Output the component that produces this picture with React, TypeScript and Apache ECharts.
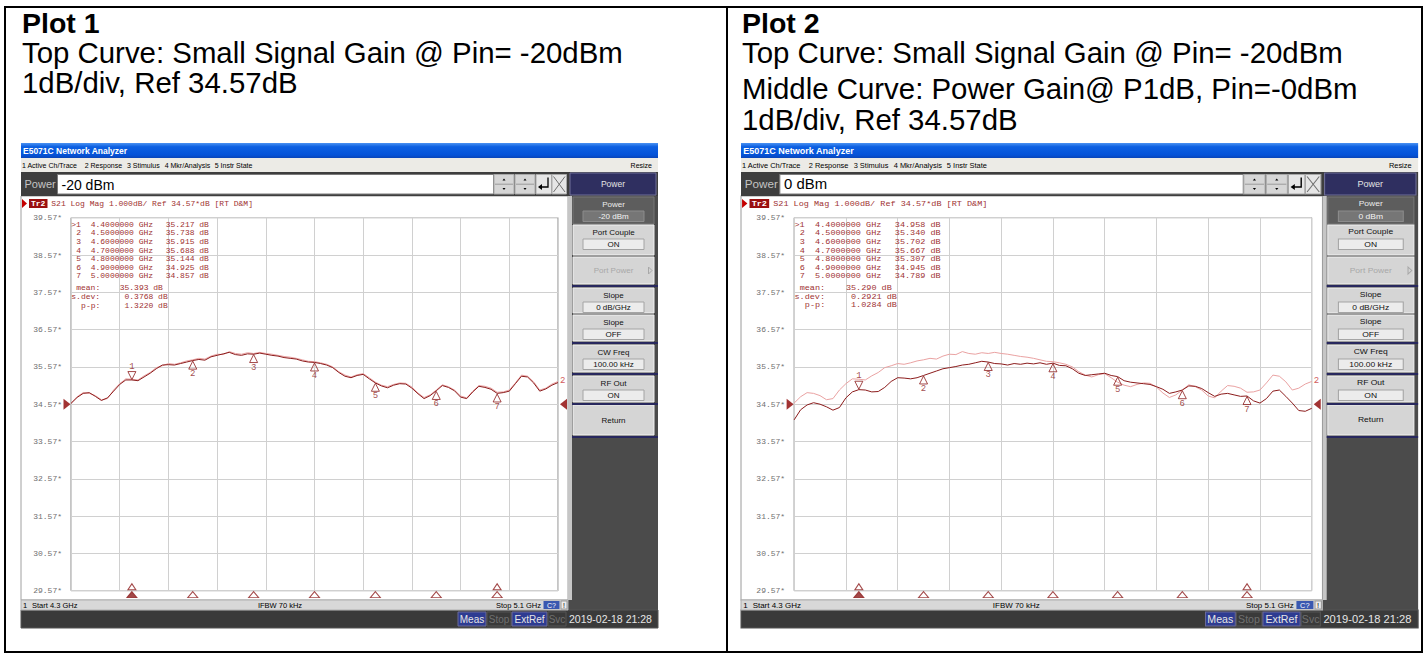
import React, { useEffect, useRef } from "react";
import * as echarts from "echarts";

// ---------- data ----------
const REF_LEVEL = 34.57;
const FREQ_GHZ = Array.from({ length: 81 }, (_, i) => (4.3 + i * 0.01).toFixed(2));
const MARKER_FREQS = ["4.40", "4.50", "4.60", "4.70", "4.80", "4.90", "5.00"];

// Plot 1 data trace (Pin = -20 dBm)
const P1_TRACE = [
  34.59, 34.75, 34.86, 34.88, 34.78, 34.67, 34.74, 34.92, 35.10, 35.22,
  35.22, 35.20, 35.30, 35.40, 35.52, 35.62, 35.63, 35.62, 35.66, 35.70,
  35.74, 35.77, 35.75, 35.84, 35.88, 35.92, 35.96, 35.90, 35.88, 35.92,
  35.91, 35.94, 35.91, 35.88, 35.86, 35.82, 35.80, 35.78, 35.73, 35.70,
  35.69, 35.66, 35.62, 35.55, 35.42, 35.32, 35.28, 35.34, 35.37, 35.25,
  35.14, 35.06, 35.01, 35.08, 35.12, 35.11, 35.00, 34.85, 34.72, 34.80,
  34.93, 35.07, 35.02, 34.93, 34.76, 34.72, 34.90, 35.05, 35.02, 34.97,
  34.86, 34.88, 34.92, 35.12, 35.32, 35.30, 35.14, 34.92, 34.98, 35.08,
  35.15,
];
// memory trace (Pin = -20 dBm, light curve)
const P1_MEMORY = [
  34.60, 34.77, 34.88, 34.86, 34.80, 34.69, 34.72, 34.95, 35.12, 35.25,
  35.24, 35.22, 35.33, 35.42, 35.55, 35.60, 35.66, 35.64, 35.68, 35.73,
  35.76, 35.80, 35.78, 35.86, 35.91, 35.90, 35.98, 35.93, 35.91, 35.95,
  35.93, 35.96, 35.93, 35.91, 35.88, 35.85, 35.83, 35.80, 35.76, 35.72,
  35.71, 35.68, 35.64, 35.57, 35.44, 35.35, 35.30, 35.36, 35.39, 35.28,
  35.16, 35.08, 35.04, 35.10, 35.14, 35.13, 35.03, 34.87, 34.75, 34.82,
  34.95, 35.09, 35.04, 34.95, 34.79, 34.74, 34.92, 35.07, 35.05, 35.00,
  34.89, 34.90, 34.95, 35.14, 35.35, 35.32, 35.17, 34.95, 35.00, 35.11,
  35.18,
];
// Plot 2 data trace (Pin = 0 dBm)
const P2_TRACE = [
  34.15, 34.42, 34.55, 34.61, 34.57, 34.50, 34.41, 34.48, 34.74, 34.90,
  34.96, 34.95, 34.90, 34.91, 35.02, 35.18, 35.28, 35.27, 35.25, 35.28,
  35.34, 35.40, 35.46, 35.52, 35.55, 35.58, 35.62, 35.64, 35.68, 35.72,
  35.70, 35.66, 35.65, 35.62, 35.66, 35.64, 35.67, 35.65, 35.68, 35.64,
  35.67, 35.61, 35.60, 35.52, 35.40, 35.34, 35.36, 35.38, 35.40, 35.34,
  35.31, 35.20, 35.16, 35.14, 35.12, 35.10, 35.04, 34.97, 34.86, 34.90,
  34.95, 35.06, 35.05, 34.99, 34.88, 34.78, 34.84, 34.86, 34.82, 34.78,
  34.79, 34.66, 34.60, 34.72, 34.92, 34.95, 34.78, 34.60, 34.40, 34.38,
  34.46,
];
const P1_MARKER_DB = [35.217, 35.738, 35.915, 35.688, 35.144, 34.925, 34.857];
const P2_MARKER_DB = [34.958, 35.34, 35.702, 35.667, 35.307, 34.945, 34.789];
const P1_STATS = ["35.393", "0.3768", "1.3220"];
const P2_STATS = ["35.290", "0.2921", "1.0284"];
const P1_POWER = "-20 dBm";
const P2_POWER = "0 dBm";
const P1_TITLE = ["Plot 1", "Top Curve: Small Signal Gain @ Pin= -20dBm", "1dB/div, Ref 34.57dB"];
const P2_TITLE = [
  "Plot 2",
  "Top Curve: Small Signal Gain @ Pin= -20dBm",
  "Middle Curve: Power Gain@ P1dB, Pin=-0dBm",
  "1dB/div, Ref 34.57dB",
];

// ---------- styling ----------
const UI = '"Liberation Sans", Arial, sans-serif';
const MONO = '"Liberation Mono", "DejaVu Sans Mono", monospace';
const DARK = "#8c1c1c";
const PINK = "#eaa2a2";
const ANNOT = "#a03232";
const SCREENS = [
  { ox: 21, sx: 1 },
  { ox: 741, sx: 677 / 637 },
];
const G_LEFT = 71;
const G_WIDTH = 487;
const G_TOP = 217.7;
const G_HEIGHT = 373;

function txt(x: number, y: number, text: string, size: number, color: string, o: any = {}) {
  return {
    type: "text",
    x,
    y,
    z: o.z ?? 10,
    style: {
      text,
      fontSize: size,
      fontFamily: o.family || UI,
      fontWeight: o.weight || "normal",
      fill: color,
      align: o.align || "left",
      textAlign: o.align || "left",
      verticalAlign: "middle",
      textVerticalAlign: "middle",
    },
  };
}
function rect(x: number, y: number, w: number, h: number, fill: string, stroke?: string, z = 1, lw = 1) {
  return {
    type: "rect",
    z,
    shape: { x, y, width: w, height: h },
    style: { fill, stroke: stroke || undefined, lineWidth: lw },
  };
}
function line(x1: number, y1: number, x2: number, y2: number, color: string, lw = 1, z = 2) {
  return { type: "line", z, shape: { x1, y1, x2, y2 }, style: { stroke: color, lineWidth: lw } };
}

function softkey(y: number, h: number, title: string, value: string | null, kind: string) {
  const els: any[] = [];
  const sel = kind === "sel";
  els.push(rect(573, y, 81, h, sel ? "#5d5d5d" : "#d5d5d5", sel ? "#777777" : "#f2f2f2", 2));
  const tc = sel ? "#ececec" : kind === "dis" ? "#a8a8a8" : "#111111";
  if (value !== null) {
    els.push(txt(613.5, y + 7, title, 8, tc, { align: "center" }));
    els.push(rect(583, y + 14, 61, 10.5, sel ? "#767676" : "#ececec", sel ? "#8c8c8c" : "#a4a4a4", 3));
    els.push(txt(613.5, y + 19.3, value, 8, sel ? "#f4f4f4" : "#111111", { align: "center" }));
  } else {
    els.push(txt(613.5, y + h / 2, title, 8, tc, { align: "center" }));
  }
  return els;
}

function screenChrome(power: string, markers: number[], stats: string[]) {
  const els: any[] = [];
  // title bar
  els.push({
    type: "rect",
    z: 1,
    shape: { x: 21, y: 143, width: 637, height: 15 },
    style: {
      fill: new echarts.graphic.LinearGradient(0, 0, 0, 1, [
        { offset: 0, color: "#4a92f2" },
        { offset: 0.25, color: "#0d60e2" },
        { offset: 0.8, color: "#0553d8" },
        { offset: 1, color: "#0a45b8" },
      ]),
    },
  });
  els.push(txt(23, 150.7, "E5071C Network Analyzer", 8.5, "#ffffff", { weight: "bold" }));
  // menu bar
  els.push(rect(21, 158, 637, 14, "#ecebe6"));
  const menus: [string, number][] = [
    ["1 Active Ch/Trace", 22],
    ["2 Response", 84.7],
    ["3 Stimulus", 127],
    ["4 Mkr/Analysis", 164.7],
    ["5 Instr State", 214.7],
  ];
  menus.forEach(([t, x]) => els.push(txt(x, 165.3, t, 7, "#000000")));
  els.push(txt(652, 165.3, "Resize", 7, "#000000", { align: "right" }));
  // entry bar
  els.push(rect(21, 172, 637, 24, "#3e3e3e"));
  els.push(txt(24.5, 184.3, "Power", 11, "#c4c4c4"));
  els.push(rect(57.5, 174.5, 436, 19.5, "#ffffff", "#7a7a7a", 2));
  els.push(txt(61.5, 184.5, power, 14, "#000000"));
  [494, 515].forEach((x) => {
    els.push(rect(x, 174.5, 20, 19.5, "#d6d6d6", "#a8a8a8", 2));
    els.push(line(x + 1, 184.2, x + 19, 184.2, "#9a9a9a", 1, 3));
    els.push({ type: "polygon", z: 3, shape: { points: [[x + 8.5, 180.5], [x + 11.5, 180.5], [x + 10, 178.5]] }, style: { fill: "#000" } });
    els.push({ type: "polygon", z: 3, shape: { points: [[x + 8.5, 188], [x + 11.5, 188], [x + 10, 190]] }, style: { fill: "#000" } });
  });
  els.push(rect(536, 174.5, 15.5, 19.5, "#e6e6e6", "#a8a8a8", 2));
  els.push({ type: "polyline", z: 3, shape: { points: [[548, 177.5], [548, 187], [541, 187]] }, style: { stroke: "#000", lineWidth: 1.3, fill: "none" } });
  els.push({ type: "polygon", z: 3, shape: { points: [[538, 187], [542, 184], [542, 190]] }, style: { fill: "#000" } });
  els.push(rect(552, 174.5, 14.5, 19.5, "#e6e6e6", "#a8a8a8", 2));
  els.push(line(553.5, 176.5, 565, 192, "#707070", 1, 3));
  els.push(line(565, 176.5, 553.5, 192, "#707070", 1, 3));
  els.push(rect(570, 173, 86, 22, "#2f2f60", "#70709a", 2));
  els.push(txt(613, 184, "Power", 8.5, "#e4e4e4", { align: "center" }));
  // chart window
  els.push(rect(21, 196, 547, 404, "#ffffff", "#a0a0a0", 0));
  els.push({ type: "polygon", z: 3, shape: { points: [[22, 199], [27, 203.5], [22, 208]] }, style: { fill: "#c40000" } });
  els.push(rect(29, 199, 18.5, 9, "#9a1010", undefined, 3));
  els.push(txt(38.2, 203.6, "Tr2", 8, "#ffffff", { family: MONO, weight: "bold", align: "center" }));
  els.push(txt(51.3, 203.6, "S21 Log Mag 1.000dB/ Ref 34.57*dB [RT D&M]", 8, ANNOT, { family: MONO }));
  // marker table
  MARKER_FREQS.forEach((f, i) => {
    const y = 224.3 + i * 8.6;
    els.push(txt(i === 0 ? 71.3 : 76.2, y, i === 0 ? ">1" : String(i + 1), 8, ANNOT, { family: MONO }));
    els.push(txt(90.7, y, Number(f).toFixed(7) + " GHz", 8, ANNOT, { family: MONO }));
    els.push(txt(165.7, y, markers[i].toFixed(3) + " dB", 8, ANNOT, { family: MONO }));
  });
  els.push(txt(76.2, 287.7, "mean:", 8, ANNOT, { family: MONO }));
  els.push(txt(119.7, 287.7, stats[0] + " dB", 8, ANNOT, { family: MONO }));
  els.push(txt(71.3, 296.3, "s.dev:", 8, ANNOT, { family: MONO }));
  els.push(txt(124.5, 296.3, stats[1] + " dB", 8, ANNOT, { family: MONO }));
  els.push(txt(81.1, 305, "p-p:", 8, ANNOT, { family: MONO }));
  els.push(txt(124.5, 305, stats[2] + " dB", 8, ANNOT, { family: MONO }));
  // softkey panel
  els.push(rect(568, 196, 90, 414, "#4b4b4b", undefined, 1));
  els.push(rect(568, 196, 4, 404, "#c6c6c6", undefined, 2));
  const keys: [number, number, string, string | null, string][] = [
    [197, 27, "Power", power, "sel"],
    [225, 30, "Port Couple", "ON", "norm"],
    [257, 27, "Port Power", null, "dis"],
    [288, 25, "Slope", "0 dB/GHz", "norm"],
    [315, 26, "Slope", "OFF", "norm"],
    [345, 27, "CW Freq", "100.00 kHz", "norm"],
    [376, 26, "RF Out", "ON", "norm"],
    [405, 30, "Return", null, "norm"],
  ];
  keys.forEach((k) => els.push(...softkey(k[0], k[1], k[2], k[3], k[4])));
  els.push({ type: "polygon", z: 4, shape: { points: [[648.5, 267], [652, 270.5], [648.5, 274]] }, style: { fill: "none", stroke: "#a8a8a8" } });
  [285, 342, 373, 403, 436].forEach((y) => els.push(rect(572, y, 86, 2, "#28285e", undefined, 3)));
  // status bar
  els.push(rect(21, 600, 547, 10, "#d8d8d8", "#b0b0b0", 2));
  els.push(txt(23, 605.3, "1", 7.5, "#000"));
  els.push(txt(32, 605.3, "Start 4.3 GHz", 7.5, "#000"));
  els.push(txt(280, 605.3, "IFBW 70 kHz", 7.5, "#000", { align: "center" }));
  els.push(txt(541, 605.3, "Stop 5.1 GHz", 7.5, "#000", { align: "right" }));
  els.push(rect(543.5, 601, 16, 8, "#3a58b0", undefined, 3));
  els.push(txt(551.5, 605.3, "C?", 7, "#ffffff", { align: "center" }));
  els.push(rect(561, 601, 6, 8, "#ececec", "#999", 3));
  els.push(txt(564, 605.3, "!", 7, "#000", { align: "center" }));
  // bottom bar
  els.push(rect(21, 610, 637, 18, "#3a3a3a", "#555", 1));
  els.push(rect(458, 612, 28, 14, "#2e3c92", "#6a6a9a", 2));
  els.push(txt(472, 619.3, "Meas", 10, "#e6e6e6", { align: "center" }));
  els.push(rect(487, 612, 24, 14, "#3a3a3a", "#555", 2));
  els.push(txt(499, 619.3, "Stop", 10, "#707070", { align: "center" }));
  els.push(rect(512, 612, 35, 14, "#2e3c92", "#6a6a9a", 2));
  els.push(txt(529.5, 619.3, "ExtRef", 10, "#e6e6e6", { align: "center" }));
  els.push(rect(548, 612, 18, 14, "#3a3a3a", "#555", 2));
  els.push(txt(557, 619.3, "Svc", 10, "#707070", { align: "center" }));
  els.push(txt(569, 619.3, "2019-02-18 21:28", 10.5, "#e6e6e6"));
  return els;
}

function plotSeries(gi: number, dark: number[], pink: number[], mk: number[]) {
  const idx = MARKER_FREQS.map((f) => FREQ_GHZ.indexOf(f));
  const rel = (v: number) => +(v - REF_LEVEL).toFixed(4);
  const base = { xAxisIndex: gi, yAxisIndex: gi, silent: true };
  const outline = { color: "rgba(255,255,255,0)", borderColor: DARK, borderWidth: 1 };
  const lbl = { color: DARK, fontSize: 9, fontFamily: MONO };
  return [
    {
      ...base,
      type: "line",
      name: "Memory " + (gi + 1),
      data: pink.map(rel),
      symbol: "none",
      lineStyle: { color: PINK, width: 1 },
      itemStyle: { color: PINK },
      z: 3,
      endLabel: { show: true, formatter: "2", color: "#d25c5c", fontSize: 9, fontFamily: MONO, distance: 2 },
    },
    {
      ...base,
      type: "line",
      name: "Data " + (gi + 1),
      data: dark.map(rel),
      symbol: "none",
      lineStyle: { color: DARK, width: 1 },
      itemStyle: { color: DARK },
      z: 4,
    },
    {
      ...base,
      type: "scatter",
      name: "Active marker",
      data: [[idx[0], rel(mk[0])]],
      symbol: "triangle",
      symbolRotate: 180,
      symbolSize: [8, 8],
      symbolOffset: [0, -4.5],
      itemStyle: outline,
      label: { show: true, position: "top", formatter: "1", distance: 0, ...lbl },
      z: 6,
      clip: false,
    },
    {
      ...base,
      type: "scatter",
      name: "Markers",
      data: idx.slice(1).map((x, i) => [x, rel(mk[i + 1])]),
      symbol: "triangle",
      symbolSize: [8, 8],
      symbolOffset: [0, 4.5],
      itemStyle: outline,
      label: { show: true, position: "bottom", formatter: (p: any) => String(p.dataIndex + 2), distance: 0, ...lbl },
      z: 6,
      clip: false,
    },
    {
      ...base,
      type: "scatter",
      name: "Stimulus markers",
      data: idx.map((x, i) => (i === 0 ? { value: [x, -5], itemStyle: { color: DARK } } : [x, -5])),
      symbol: "triangle",
      symbolSize: [10, 6],
      symbolOffset: [0, 4],
      itemStyle: { color: "#ffffff", borderColor: DARK, borderWidth: 1 },
      z: 6,
      clip: false,
    },
    {
      ...base,
      type: "scatter",
      name: "Stimulus markers 2",
      data: [idx[0], idx[idx.length - 1]].map((x) => [x, -5]),
      symbol: "triangle",
      symbolSize: [8, 6],
      symbolOffset: [0, -4],
      itemStyle: { color: "#ffffff", borderColor: DARK, borderWidth: 1 },
      z: 6,
      clip: false,
    },
    {
      ...base,
      type: "scatter",
      name: "Reference",
      data: [
        { value: [0, 0], symbolRotate: -90, symbolOffset: [-4, 0] },
        { value: [FREQ_GHZ.length - 1, 0], symbolRotate: 90, symbolOffset: [5.5, 0] },
      ],
      symbol: "triangle",
      symbolSize: [11, 7],
      itemStyle: { color: "#8b0000" },
      z: 6,
      clip: false,
    },
  ];
}

function buildOption() {
  const titleEls: any[] = [];
  const tY1 = [22.5, 52.5, 82.5];
  const tY2 = [22.5, 52.5, 88.5, 119];
  P1_TITLE.forEach((t, i) =>
    titleEls.push(txt(22, tY1[i], t, i === 0 ? 28.5 : 29.4, "#000000", { weight: i === 0 ? "bold" : "normal" }))
  );
  P2_TITLE.forEach((t, i) =>
    titleEls.push(txt(742, tY2[i], t, i === 0 ? 28.5 : 29.4, "#000000", { weight: i === 0 ? "bold" : "normal" }))
  );
  const groups = SCREENS.map((s, i) => ({
    type: "group",
    x: s.ox - 21 * s.sx,
    y: 0,
    scaleX: s.sx,
    scaleY: 1,
    children:
      i === 0
        ? screenChrome(P1_POWER, P1_MARKER_DB, P1_STATS)
        : screenChrome(P2_POWER, P2_MARKER_DB, P2_STATS),
  }));
  const grids = SCREENS.map((s) => ({
    left: s.ox + s.sx * (G_LEFT - 21),
    top: G_TOP,
    width: G_WIDTH * s.sx,
    height: G_HEIGHT,
    show: true,
    backgroundColor: "rgba(0,0,0,0)",
    borderColor: "#8a8a8a",
    borderWidth: 1,
    z: 2,
  }));
  const xAxes = SCREENS.map((_, i) => ({
    gridIndex: i,
    type: "category",
    data: FREQ_GHZ,
    boundaryGap: false,
    axisLine: { show: false },
    axisTick: { show: false },
    axisLabel: { show: false },
    splitLine: { show: true, interval: 7, lineStyle: { color: "#d0d0d0", width: 1 } },
    z: 2,
  }));
  const yAxes = SCREENS.map((_, i) => ({
    gridIndex: i,
    type: "value",
    min: -5,
    max: 5,
    interval: 1,
    axisLine: { show: false },
    axisTick: { show: false },
    splitLine: { show: true, lineStyle: { color: "#d0d0d0", width: 1 } },
    axisLabel: {
      formatter: (v: number) => (v + REF_LEVEL).toFixed(2) + "*",
      fontFamily: MONO,
      fontSize: 8,
      color: "#707070",
      margin: 9,
    },
    z: 2,
  }));
  return {
    animation: false,
    backgroundColor: "#ffffff",
    graphic: {
      elements: [
        { type: "rect", z: 20, shape: { x: 5, y: 7, width: 1417, height: 645 }, style: { fill: "none", stroke: "#000", lineWidth: 2 } },
        line(727, 7, 727, 652, "#000", 2, 20),
        ...titleEls,
        ...groups,
      ],
    },
    grid: grids,
    xAxis: xAxes,
    yAxis: yAxes,
    series: [
      ...plotSeries(0, P1_TRACE, P1_MEMORY, P1_MARKER_DB),
      ...plotSeries(1, P2_TRACE, P1_MEMORY, P2_MARKER_DB),
    ],
  };
}

export default function App() {
  const ref = useRef<HTMLDivElement>(null);
  useEffect(() => {
    const chart = echarts.init(ref.current!, undefined, { renderer: "svg" });
    chart.setOption(buildOption() as any);
    return () => chart.dispose();
  }, []);
  return (
    <div
      ref={ref}
      style={{ position: "fixed", left: 0, top: 0, width: 1428, height: 657, background: "#fff" }}
    />
  );
}
